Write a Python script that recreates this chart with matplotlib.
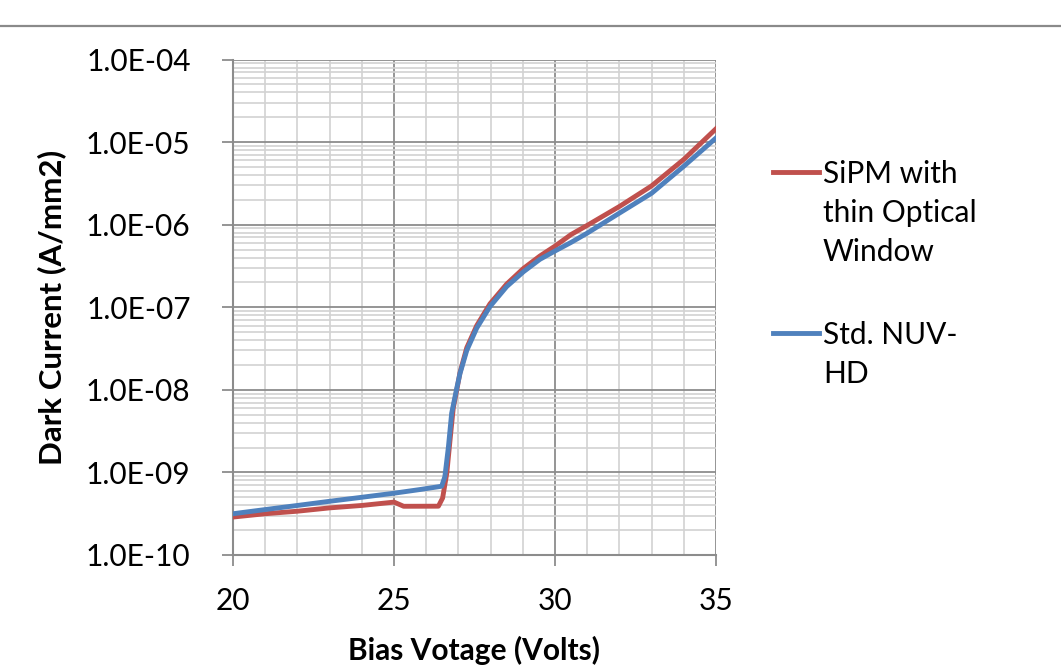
"""Dark current vs bias voltage for two SiPM variants (log scale)."""
import matplotlib

matplotlib.use("Agg")
import matplotlib.pyplot as plt
from matplotlib.lines import Line2D
from matplotlib.ticker import FuncFormatter, LogLocator, MultipleLocator

# Bias voltage (V) and dark current (A/mm2)
thin_window_volts = [20.0, 21.0, 22.0, 23.0, 24.0, 25.0, 25.3, 26.38, 26.51,
                     26.64, 26.74, 26.84, 26.95, 27.05, 27.26, 27.57, 27.98,
                     28.5, 29.02, 29.53, 30.0, 30.5, 31.0, 32.0, 33.0, 34.0,
                     35.0]
thin_window_current = [2.88e-10, 3.16e-10, 3.39e-10, 3.72e-10, 3.98e-10,
                       4.37e-10, 3.89e-10, 3.9e-10, 4.9e-10, 9.8e-10,
                       2.45e-9, 6.0e-9, 1.0e-8, 1.62e-8, 3.24e-8, 6.0e-8,
                       1.10e-7, 1.91e-7, 2.95e-7, 4.17e-7, 5.5e-7, 7.6e-7,
                       9.8e-7, 1.66e-6, 2.95e-6, 6.17e-6, 1.45e-5]

std_volts = [20.0, 21.0, 22.0, 23.0, 24.0, 25.0, 25.8, 26.48, 26.58, 26.69,
             26.79, 26.95, 27.05, 27.26, 27.57, 27.98, 28.5, 29.02, 29.53,
             30.0, 30.5, 31.0, 32.0, 33.0, 34.0, 35.0]
std_current = [3.16e-10, 3.55e-10, 3.98e-10, 4.47e-10, 5.0e-10, 5.6e-10,
               6.2e-10, 6.8e-10, 8.9e-10, 2.04e-9, 5.2e-9, 1.05e-8, 1.58e-8,
               3.0e-8, 5.6e-8, 1.02e-7, 1.78e-7, 2.69e-7, 3.8e-7, 4.8e-7,
               6.1e-7, 7.9e-7, 1.38e-6, 2.4e-6, 5.1e-6, 1.12e-5]

labels = ["SiPM with\nthin Optical\nWindow", "Std. NUV-\nHD"]
colors = ["#C0504D", "#4F81BD"]

plt.rcParams["font.family"] = ["Lato", "DejaVu Sans"]

W, H = 1061, 667
fig = plt.figure(figsize=(W / 100, H / 100), dpi=100)
ax = fig.add_axes([233 / W, 1 - 555 / H, (716 - 233) / W, (555 - 59.5) / H])

ax.plot(thin_window_volts, thin_window_current, color=colors[0], lw=3.5,
        solid_joinstyle="round", zorder=3)
ax.plot(std_volts, std_current, color=colors[1], lw=3.5,
        solid_joinstyle="round", zorder=4)

ax.set_yscale("log")
ax.set_xlim(20, 35)
ax.set_ylim(1e-10, 1e-4)
ax.xaxis.set_major_locator(MultipleLocator(5))
ax.xaxis.set_minor_locator(MultipleLocator(1))
ax.yaxis.set_major_locator(LogLocator(base=10, numticks=10))
ax.yaxis.set_minor_locator(LogLocator(base=10, subs=range(2, 10), numticks=20))
ax.yaxis.set_major_formatter(FuncFormatter(lambda v, _: f"{v:.1E}"))

ax.grid(which="major", color="#8c8c8c", lw=1.3)
ax.grid(which="minor", color="#d2d2d2", lw=1.2)
ax.set_axisbelow(True)

for side in ("top", "right"):
    ax.spines[side].set_visible(False)
for side in ("left", "bottom"):
    ax.spines[side].set_color("#8c8c8c")
    ax.spines[side].set_linewidth(1.5)

ax.tick_params(which="major", direction="out", length=8, width=1.3,
               color="#8c8c8c", labelsize=21.5)
ax.tick_params(axis="y", which="major", pad=22.5)
ax.tick_params(axis="x", which="major", pad=15)
ax.tick_params(which="minor", length=0)

ax.set_xlabel("Bias Votage (Volts)", fontsize=21.5, fontweight="bold",
              labelpad=15)
ax.set_ylabel("Dark Current (A/mm2)", fontsize=22.5, fontweight="bold",
              labelpad=14)

# Legend drawn by hand so the handle sits beside the first text line
legend_rows = [172, 333]
for label, color, y in zip(labels, colors, legend_rows):
    fy = 1 - y / H
    fig.add_artist(Line2D([773 / W, 819 / W], [fy, fy], color=color, lw=3.5,
                          transform=fig.transFigure))
    fig.text(823 / W, fy + 12 / H, label, fontsize=21.5, va="top", ha="left",
             linespacing=1.48)

# Thin frame line across the top of the figure
fig.add_artist(Line2D([0, 1], [1 - 26 / H, 1 - 26 / H], color="#8a8a8a",
                      lw=1.6, transform=fig.transFigure))

fig.savefig("out.png", dpi=100)
